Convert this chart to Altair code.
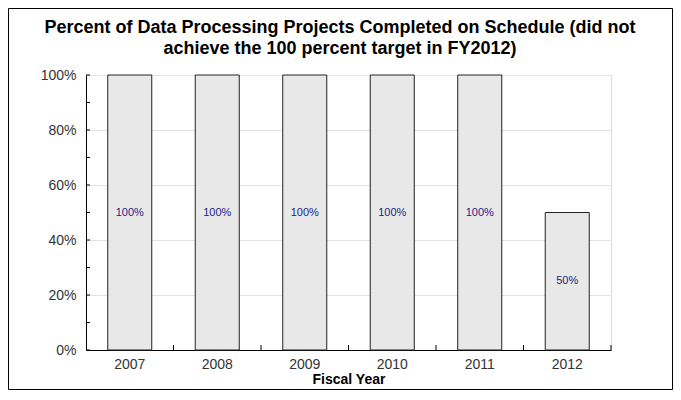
import altair as alt
import pandas as pd

years = ["2007", "2008", "2009", "2010", "2011", "2012"]
values = [1.0, 1.0, 1.0, 1.0, 1.0, 0.5]
title_lines = ["Percent of Data Processing Projects Completed on Schedule (did not",
               "achieve the 100 percent target in FY2012)"]
y_ticks = [0.0, 0.1, 0.2, 0.3, 0.4, 0.5, 0.6, 0.7, 0.8, 0.9, 1.0]
x_boundaries = [1, 2, 3, 4, 5, 6]

FONT = "Liberation Sans"
W, H = 525, 275
PAD_L, PAD_T, TOTAL_W, TOTAL_H = 78, 67, 665, 382
PAD_R = TOTAL_W - PAD_L - W
PAD_B = TOTAL_H - PAD_T - H

df = pd.DataFrame({"year": years, "value": values})

xs = alt.Scale(domain=years, paddingInner=0.497, paddingOuter=0.2485)
ys = alt.Scale(domain=[0, 1], nice=False)

bars = alt.Chart(df).mark_bar(fill="#e8e8e8", stroke="#222", strokeWidth=1).encode(
    x=alt.X("year:N", scale=xs, sort=years,
            axis=alt.Axis(title="Fiscal Year", labelAngle=0, ticks=False, labelPadding=7,
                          labelFontSize=14, labelColor="#333", labelFont=FONT,
                          titleFont=FONT, titleFontSize=14, titleFontWeight="bold",
                          titleColor="#000", titlePadding=1,
                          domainColor="#000", grid=False)),
    y=alt.Y("value:Q", scale=ys,
            axis=alt.Axis(title=None, format=".0%", values=[0, 0.2, 0.4, 0.6, 0.8, 1.0],
                          ticks=False, labelPadding=10, labelFontSize=14, labelColor="#333",
                          labelFont=FONT, domainColor="#000", grid=True,
                          gridColor="#e2e2e2")),
)

labels = alt.Chart(df).transform_calculate(mid="datum.value / 2").mark_text(
    color="#1c1c8c", fontSize=11, font=FONT, baseline="middle"
).encode(
    x=alt.X("year:N", scale=xs, sort=years),
    y=alt.Y("mid:Q", scale=ys),
    text=alt.Text("value:Q", format=".0%"),
)

ytick_df = pd.DataFrame({"t": y_ticks})
yticks = alt.Chart(ytick_df).mark_rule(color="#000", strokeWidth=1).encode(
    y=alt.Y("t:Q", scale=ys),
    x=alt.value(0),
    x2=alt.value(4),
)

xtick_df = pd.DataFrame({"b": x_boundaries})
xticks = alt.Chart(xtick_df).mark_rule(color="#000", strokeWidth=1).encode(
    x=alt.X("b:Q", scale=alt.Scale(domain=[0, 6], nice=False, zero=True), axis=None),
    y=alt.value(H),
    y2=alt.value(H - 5),
)

one = alt.Data(values=[{"a": 1}])

frame = alt.Chart(one).mark_rect(
    fill="transparent", stroke="#000", strokeWidth=1
).encode(
    x=alt.value(-PAD_L + 0.5), x2=alt.value(W + PAD_R - 0.5),
    y=alt.value(-PAD_T + 0.5), y2=alt.value(H + PAD_B - 0.5),
)

title1 = alt.Chart(one).mark_text(
    font=FONT, fontSize=18, fontWeight="bold", color="#000", baseline="alphabetic", align="center"
).encode(x=alt.value(254), y=alt.value(-42), text=alt.value(title_lines[0]))

title2 = alt.Chart(one).mark_text(
    font=FONT, fontSize=18, fontWeight="bold", color="#000", baseline="alphabetic", align="center"
).encode(x=alt.value(254), y=alt.value(-21), text=alt.value(title_lines[1]))

main = alt.layer(bars, labels, yticks)

chart = alt.layer(main, xticks, frame, title1, title2).resolve_scale(x="independent").properties(
    width=W, height=H,
    autosize=alt.AutoSizeParams(type="none"),
    padding={"left": PAD_L, "top": PAD_T, "right": PAD_R, "bottom": PAD_B},
).configure_view(stroke=None).configure(background="white")

chart.save("out.html", embed_options={"renderer": "svg", "actions": False})
